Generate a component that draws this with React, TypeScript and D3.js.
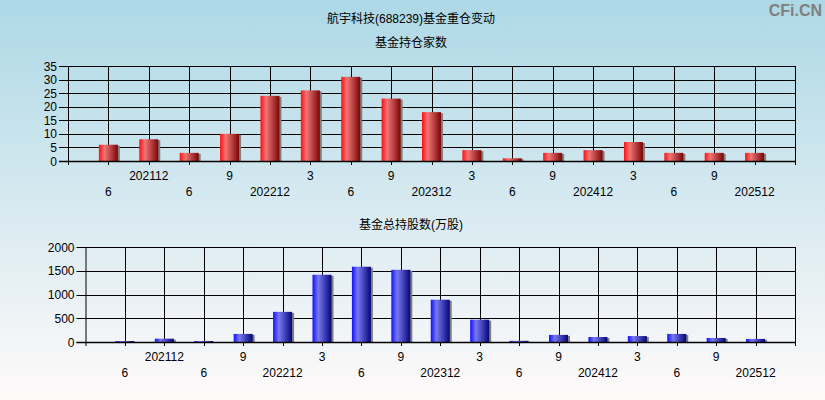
import React from "react";
import * as d3 from "d3";

const categories = ["202106","202112","202206","202209","202212","202303","202306","202309","202312","202403","202406","202409","202412","202503","202506","202509","202512"];
const tickLabels = ["6","202112","6","9","202212","3","6","9","202312","3","6","9","202412","3","6","9","202512"];
const fundCounts = [6,8,3,10,24,26,31,23,18,4,1,3,4,7,3,3,3];
const fundShares = [20,70,20,170,635,1415,1585,1520,890,470,25,150,105,125,170,85,65];
const countTicks = [0,5,10,15,20,25,30,35];
const shareTicks = [0,500,1000,1500,2000];

const W = 825, H = 400;
const FONT = "'Liberation Sans', Arial, 'Noto Sans CJK SC', sans-serif";

type PanelProps = {
  left: number; right: number; top: number; bottom: number;
  values: number[]; ticks: number[]; max: number; grad: string; labelTop: number;
};

function Panel({ left, right, top, bottom, values, ticks, max, grad, labelTop }: PanelProps) {
  const x = d3.scalePoint<string>().domain(categories).range([left, right]).padding(1);
  const y = d3.scaleLinear().domain([0, max]).range([bottom, top]);
  const bw = 19;
  return (
    <g>
      {ticks.map((t) => (
        <g key={"h" + t}>
          <line x1={left - 9} x2={right} y1={Math.round(y(t)) + 0.5} y2={Math.round(y(t)) + 0.5} stroke="#000" strokeWidth={1} />
          <text x={left - 11} y={y(t) + 4.5} textAnchor="end" fontSize={12} fill="#000" fontFamily={FONT}>{t}</text>
        </g>
      ))}
      {categories.map((c) => (
        <line key={"v" + c} x1={Math.round(x(c)!) + 0.5} x2={Math.round(x(c)!) + 0.5} y1={top} y2={bottom + 4} stroke="#000" strokeWidth={1} />
      ))}
      <line x1={left + 0.5} x2={left + 0.5} y1={top} y2={bottom + 4} stroke="#000" />
      <line x1={right + 0.5} x2={right + 0.5} y1={top} y2={bottom + 4} stroke="#000" />
      {values.map((v, i) => {
        const cx = x(categories[i])!;
        const yt = y(v);
        const h = bottom - yt;
        return (
          <g key={"b" + i}>
            <rect x={cx - bw / 2 + 2} y={yt + 1} width={bw} height={Math.max(0, h - 1)} fill="#7f7f7f" />
            <rect x={cx - bw / 2} y={yt} width={bw} height={h} fill={`url(#${grad})`} />
          </g>
        );
      })}
      <line x1={left - 9} x2={right} y1={Math.round(bottom) + 0.5} y2={Math.round(bottom) + 0.5} stroke="#000" strokeWidth={1.5} />
      {tickLabels.map((l, i) => (
        <text key={"l" + i} x={x(categories[i])!} y={i % 2 === 1 ? labelTop : labelTop + 16} textAnchor="middle" fontSize={12} fill="#000" fontFamily={FONT}>{l}</text>
      ))}
    </g>
  );
}

export default function App() {
  return (
    <svg width={W} height={H} style={{ position: "absolute", left: 0, top: 0 }} xmlns="http://www.w3.org/2000/svg">
      <defs>
        <linearGradient id="bg" x1="0" y1="0" x2="0" y2="1">
          <stop offset="0" stopColor="#add8e6" />
          <stop offset="1" stopColor="#fffafa" />
        </linearGradient>
        <linearGradient id="red" x1="0" y1="0" x2="1" y2="0">
          <stop offset="0" stopColor="#ff1010" />
          <stop offset="0.3" stopColor="#f07575" />
          <stop offset="1" stopColor="#7a0505" />
        </linearGradient>
        <linearGradient id="blue" x1="0" y1="0" x2="1" y2="0">
          <stop offset="0" stopColor="#1010ff" />
          <stop offset="0.3" stopColor="#7878f0" />
          <stop offset="1" stopColor="#05057a" />
        </linearGradient>
      </defs>
      <rect x={0} y={0} width={W} height={H} fill="url(#bg)" />
      <text x={411} y={23} textAnchor="middle" fontSize={12} fill="#000" fontFamily={FONT}>航宇科技(688239)基金重仓变动</text>
      <text x={411} y={47} textAnchor="middle" fontSize={12} fill="#000" fontFamily={FONT}>基金持仓家数</text>
      <text x={411} y={229} textAnchor="middle" fontSize={12} fill="#000" fontFamily={FONT}>基金总持股数(万股)</text>
      <text x={822} y={16} textAnchor="end" fontSize={16} fontWeight="bold" fill="#808080" fontFamily={FONT}>CFi.CN</text>
      <Panel left={68} right={795} top={66} bottom={161} values={fundCounts} ticks={countTicks} max={35} grad="red" labelTop={180} />
      <Panel left={85.5} right={795} top={247} bottom={342} values={fundShares} ticks={shareTicks} max={2000} grad="blue" labelTop={361} />
    </svg>
  );
}
